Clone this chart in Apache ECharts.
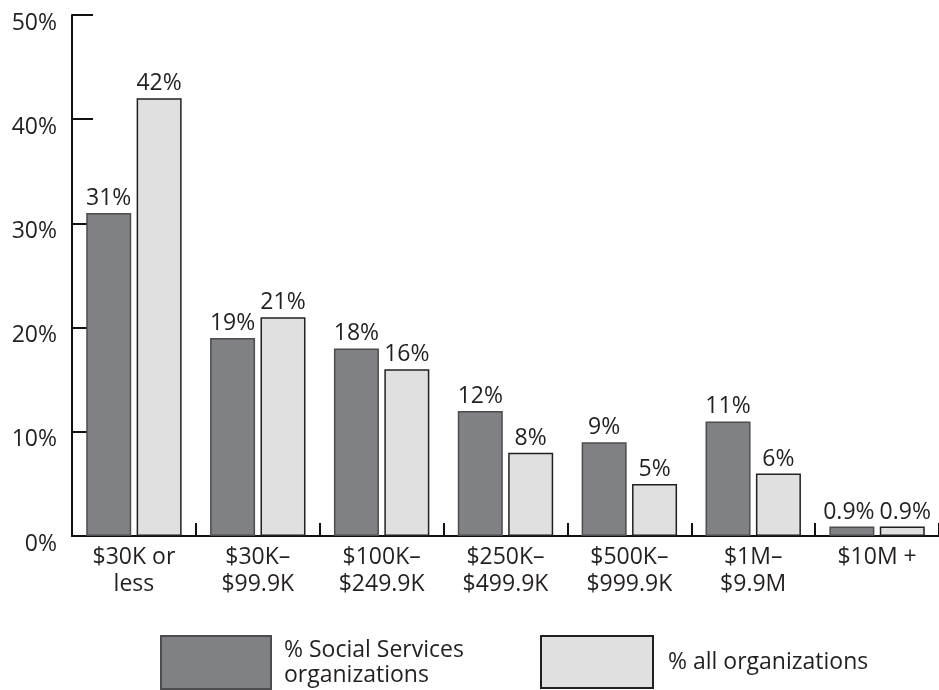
<!DOCTYPE html>
<html>
<head>
<meta charset="utf-8">
<script src="https://cdn.jsdelivr.net/npm/echarts@6/dist/echarts.min.js"></script>
<style>
  html, body { margin: 0; padding: 0; background: #fff; }
  #chart { width: 939px; height: 690px; }
</style>
</head>
<body>
<div id="chart"></div>
<script>
// Budget-size brackets
const categories = [
  '$30K or\nless',
  '$30K–\n$99.9K',
  '$100K–\n$249.9K',
  '$250K–\n$499.9K',
  '$500K–\n$999.9K',
  '$1M–\n$9.9M',
  '$10M +'
];
// Share of organizations in each bracket (%)
const socialServices = [31, 19, 18, 12, 9, 11, 0.9];
const allOrganizations = [42, 21, 16, 8, 5, 6, 0.9];
const seriesNames = ['% Social Services organizations', '% all organizations'];

const FONT = '"Open Sans", "DejaVu Sans", sans-serif';
const TEXT = '#231f20';

const chart = echarts.init(document.getElementById('chart'), null, { renderer: 'canvas' });

const barLabel = {
  show: true,
  position: 'top',
  distance: 3,
  formatter: '{c}%',
  color: TEXT,
  fontFamily: FONT,
  fontSize: 23
};

// The two labels of the last bracket sit side by side; nudge them apart a little.
function withLastLabelShift(values, dx) {
  return values.map((v, i) =>
    i === values.length - 1 ? { value: v, label: { offset: [dx, 0] } } : v
  );
}

chart.setOption({
  animation: false,
  backgroundColor: '#ffffff',
  textStyle: { fontFamily: FONT },
  grid: { left: 72, right: -3, top: 15, bottom: 154, containLabel: false },
  xAxis: {
    type: 'category',
    data: categories,
    boundaryGap: true,
    axisLine: { show: true, lineStyle: { color: '#111', width: 2 } },
    axisTick: { show: true, inside: true, length: 13, alignWithLabel: false, lineStyle: { color: '#111', width: 2 } },
    axisLabel: {
      color: TEXT,
      fontFamily: FONT,
      fontSize: 23,
      lineHeight: 27,
      margin: 8,
      interval: 0
    }
  },
  yAxis: {
    type: 'value',
    min: 0,
    max: 50,
    interval: 10,
    splitLine: { show: false },
    axisLine: { show: true, lineStyle: { color: '#111', width: 2 } },
    axisTick: { show: true, inside: true, length: 21, lineStyle: { color: '#111', width: 2 } },
    axisLabel: {
      formatter: '{value}%',
      color: TEXT,
      fontFamily: FONT,
      fontSize: 23,
      lineHeight: 16,
      verticalAlign: 'top',
      margin: 15
    }
  },
  legend: [
    {
      left: 160,
      top: 635,
      padding: 0,
      itemWidth: 110,
      itemHeight: 53,
      icon: 'rect',
      data: [seriesNames[0]],
      formatter: () => '% Social Services\norganizations',
      textStyle: { color: TEXT, fontFamily: FONT, fontSize: 23, lineHeight: 25, padding: [0, 0, 0, 8] }
    },
    {
      left: 540,
      top: 635,
      padding: 0,
      itemWidth: 112,
      itemHeight: 52,
      icon: 'rect',
      data: [seriesNames[1]],
      textStyle: { color: TEXT, fontFamily: FONT, fontSize: 23, padding: [0, 0, 0, 10] }
    }
  ],
  series: [
    {
      name: seriesNames[0],
      type: 'bar',
      data: withLastLabelShift(socialServices, -3),
      barWidth: 45,
      barGap: '12%',
      itemStyle: { color: '#808184', borderColor: '#4d4d4f', borderWidth: 1.5 },
      label: barLabel
    },
    {
      name: seriesNames[1],
      type: 'bar',
      data: withLastLabelShift(allOrganizations, 3),
      barWidth: 45,
      itemStyle: { color: '#e0e0e1', borderColor: '#231f20', borderWidth: 1.5 },
      label: barLabel
    }
  ]
});
</script>
</body>
</html>
